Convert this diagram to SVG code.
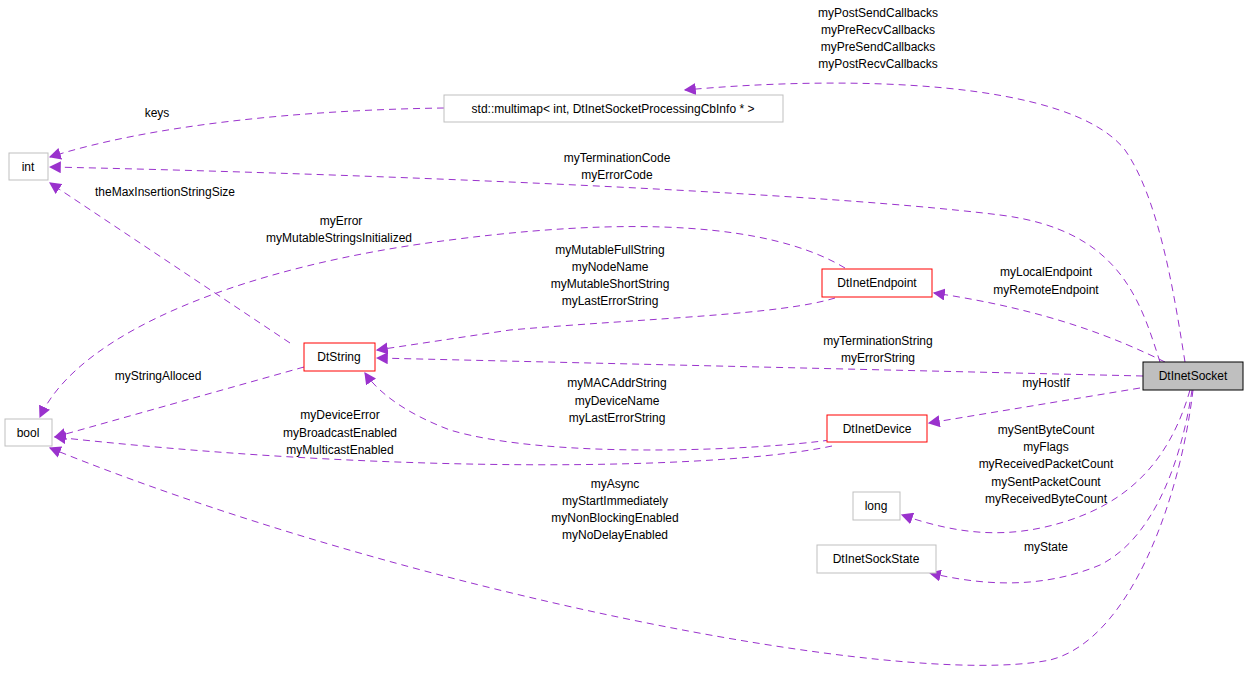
<svg xmlns="http://www.w3.org/2000/svg" width="1248" height="673" viewBox="0 0 1248 673">
<defs>
<marker id="a" viewBox="0 0 10 10" refX="9" refY="5" markerWidth="12" markerHeight="12" markerUnits="userSpaceOnUse" orient="auto"><path d="M0,0 L10,5 L0,10 z" fill="#9a32cd"/></marker>
<style>
text{font-family:"Liberation Sans",Arial,sans-serif;font-size:12px;fill:#000;text-anchor:middle}
.g rect{fill:#fff;stroke:#bfbfbf}
.r rect{fill:#fff;stroke:#ff0000}
#edges path{fill:none;stroke:#9a32cd;stroke-dasharray:7,5;marker-end:url(#a)}
</style>
</defs>
<rect width="1248" height="673" fill="#fff"/>
<g id="edges">
<path d="M1185,362 C1175,300 1160,200 1125,150 C1070,80 850,75 685,90"/>
<path d="M1160,362 C1140,300 1120,230 1000,215 C800,190 300,172 50,167"/>
<path d="M444,108 C300,110 150,125 50,157"/>
<path d="M290,343 L50,183"/>
<path d="M845,268 C790,235 680,210 450,240 C250,265 80,330 40,417"/>
<path d="M835,298 C780,315 650,318 510,330 L377,350"/>
<path d="M1165,362 C1120,340 1050,310 934,293"/>
<path d="M1143,376 L377,358"/>
<path d="M304,367 L55,437"/>
<path d="M1140,388 L929,423"/>
<path d="M830,440 C760,450 550,460 450,430 C410,415 380,395 365,373"/>
<path d="M832,446 C720,470 400,475 55,437"/>
<path d="M1190,390 C1170,460 1130,500 1070,520 C1010,540 960,535 902,515"/>
<path d="M1192,390 C1180,470 1150,540 1100,565 C1040,590 980,585 930,573"/>
<path d="M1193,390 C1180,500 1130,640 1050,660 C900,690 400,590 50,448"/>
</g>
<g id="labels">
<text x="878" y="17">myPostSendCallbacks</text>
<text x="878" y="34">myPreRecvCallbacks</text>
<text x="878" y="51">myPreSendCallbacks</text>
<text x="878" y="68">myPostRecvCallbacks</text>
<text x="157" y="117">keys</text>
<text x="617" y="162">myTerminationCode</text>
<text x="617" y="179">myErrorCode</text>
<text x="165" y="196">theMaxInsertionStringSize</text>
<text x="341" y="225">myError</text>
<text x="339" y="242">myMutableStringsInitialized</text>
<text x="610" y="254">myMutableFullString</text>
<text x="610" y="271">myNodeName</text>
<text x="610" y="288">myMutableShortString</text>
<text x="610" y="305">myLastErrorString</text>
<text x="1046" y="276">myLocalEndpoint</text>
<text x="1046" y="294">myRemoteEndpoint</text>
<text x="878" y="345">myTerminationString</text>
<text x="878" y="362">myErrorString</text>
<text x="158" y="380">myStringAlloced</text>
<text x="1046" y="387">myHostIf</text>
<text x="617" y="387">myMACAddrString</text>
<text x="617" y="405">myDeviceName</text>
<text x="617" y="422">myLastErrorString</text>
<text x="340" y="419">myDeviceError</text>
<text x="340" y="437">myBroadcastEnabled</text>
<text x="340" y="454">myMulticastEnabled</text>
<text x="1046" y="434">mySentByteCount</text>
<text x="1046" y="451">myFlags</text>
<text x="1046" y="468">myReceivedPacketCount</text>
<text x="1046" y="486">mySentPacketCount</text>
<text x="1046" y="503">myReceivedByteCount</text>
<text x="615" y="488">myAsync</text>
<text x="615" y="505">myStartImmediately</text>
<text x="615" y="522">myNonBlockingEnabled</text>
<text x="615" y="539">myNoDelayEnabled</text>
<text x="1046" y="551">myState</text>
</g>
<g id="DtInetSocket"><rect x="1143" y="362" width="100" height="28" fill="#bfbfbf" stroke="#000"/><text x="1193" y="380">DtInetSocket</text></g>
<g id="multimap" class="g"><rect x="444" y="95" width="339" height="27"/><text x="613" y="113">std::multimap&lt; int, DtInetSocketProcessingCbInfo * &gt;</text></g>
<g id="int" class="g"><rect x="9" y="153" width="39" height="27"/><text x="28" y="171">int</text></g>
<g id="bool" class="g"><rect x="5" y="419" width="47" height="27"/><text x="28" y="437">bool</text></g>
<g id="DtString" class="r"><rect x="304" y="343" width="71" height="28"/><text x="339" y="361">DtString</text></g>
<g id="DtInetEndpoint" class="r"><rect x="822" y="269" width="110" height="28"/><text x="877" y="287">DtInetEndpoint</text></g>
<g id="DtInetDevice" class="r"><rect x="827" y="415" width="100" height="27"/><text x="877" y="433">DtInetDevice</text></g>
<g id="long" class="g"><rect x="853" y="492" width="47" height="28"/><text x="876" y="510">long</text></g>
<g id="DtInetSockState" class="g"><rect x="817" y="545" width="119" height="28"/><text x="876" y="563">DtInetSockState</text></g>
</svg>
